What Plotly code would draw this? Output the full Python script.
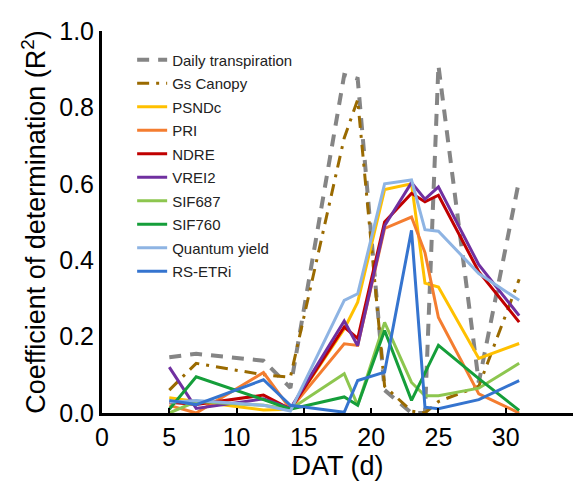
import plotly.graph_objects as go

# Days after transplanting (DAT)
days = [5, 7, 12, 14, 18, 19, 21, 23, 24, 25, 28, 31]

daily_transpiration = [0.146, 0.155, 0.137, 0.066, 0.885, 0.875, 0.06, 0.0, 0.0, 0.91, 0.08, 0.61]
gs_canopy = [0.06, 0.13, 0.10, 0.094, 0.72, 0.82, 0.07, 0.005, 0.0, 0.03, 0.07, 0.35]
psndc = [0.04, 0.03, 0.008, 0.01, 0.22, 0.29, 0.585, 0.60, 0.34, 0.33, 0.143, 0.182]
pri = [0.02, 0.0, 0.106, 0.01, 0.181, 0.177, 0.483, 0.513, 0.42, 0.25, 0.05, 0.0]
ndre = [0.028, 0.022, 0.047, 0.01, 0.225, 0.195, 0.50, 0.575, 0.553, 0.57, 0.37, 0.238]
vrei2 = [0.12, 0.012, 0.037, 0.012, 0.241, 0.176, 0.49, 0.603, 0.56, 0.592, 0.388, 0.255]
sif687 = [0.0, 0.03, 0.02, 0.01, 0.103, 0.02, 0.237, 0.08, 0.045, 0.045, 0.065, 0.13]
sif760 = [0.01, 0.095, 0.035, 0.01, 0.042, 0.02, 0.216, 0.033, 0.105, 0.177, 0.09, 0.007]
quantum_yield = [0.028, 0.033, 0.02, 0.005, 0.295, 0.312, 0.60, 0.61, 0.48, 0.476, 0.365, 0.295]
rs_etri = [0.033, 0.022, 0.087, 0.02, 0.002, 0.085, 0.107, 0.478, 0.015, 0.011, 0.035, 0.085]

series = [
    ("Daily transpiration", daily_transpiration, "#858585", 4, "12px,9px"),
    ("Gs Canopy", gs_canopy, "#9A6A00", 3, "12px,7px,3px,7px"),
    ("PSNDc", psndc, "#FFC000", 3, "solid"),
    ("PRI", pri, "#F47D30", 3, "solid"),
    ("NDRE", ndre, "#C00000", 3, "solid"),
    ("VREI2", vrei2, "#7030A0", 3, "solid"),
    ("SIF687", sif687, "#8DC64F", 3, "solid"),
    ("SIF760", sif760, "#159E3A", 3, "solid"),
    ("Quantum yield", quantum_yield, "#8EB4E3", 3, "solid"),
    ("RS-ETRi", rs_etri, "#3574CF", 3, "solid"),
]

fig = go.Figure()
for i, (name, vals, color, width, dash) in enumerate(series):
    fig.add_trace(go.Scatter(
        x=days, y=vals, name=name, mode="lines",
        line=dict(color=color, width=width, dash=dash),
        legendgroup=f"g{i}",
    ))

fig.update_layout(
    width=585, height=490,
    margin=dict(l=102, r=12, t=31, b=77),
    paper_bgcolor="white", plot_bgcolor="white",
    font=dict(family="Liberation Sans, Arial, sans-serif", color="black"),
    showlegend=True,
    legend=dict(
        x=0.064, y=0.967, xanchor="left", yanchor="top",
        bgcolor="rgba(0,0,0,0)", borderwidth=0,
        font=dict(size=15, color="#222222"),
        tracegroupgap=1,
    ),
)

fig.update_xaxes(
    range=[0, 35], tickvals=[0, 5, 10, 15, 20, 25, 30, 35],
    showgrid=False, zeroline=False,
    showline=True, linecolor="black", linewidth=3,
    ticks="inside", ticklen=5, tickwidth=2, tickcolor="black",
    tickfont=dict(size=25),
    title=dict(text="DAT (d)", font=dict(size=27), standoff=4),
)
fig.update_yaxes(
    range=[0, 1.0], tickvals=[0, 0.2, 0.4, 0.6, 0.8, 1.0], tickformat=".1f",
    showgrid=False, zeroline=False,
    showline=True, linecolor="black", linewidth=3,
    ticks="", tickfont=dict(size=25),
    title=dict(text="Coefficient of determination (R<sup>2</sup>)", font=dict(size=27), standoff=6),
)

fig.write_html("out.html")
